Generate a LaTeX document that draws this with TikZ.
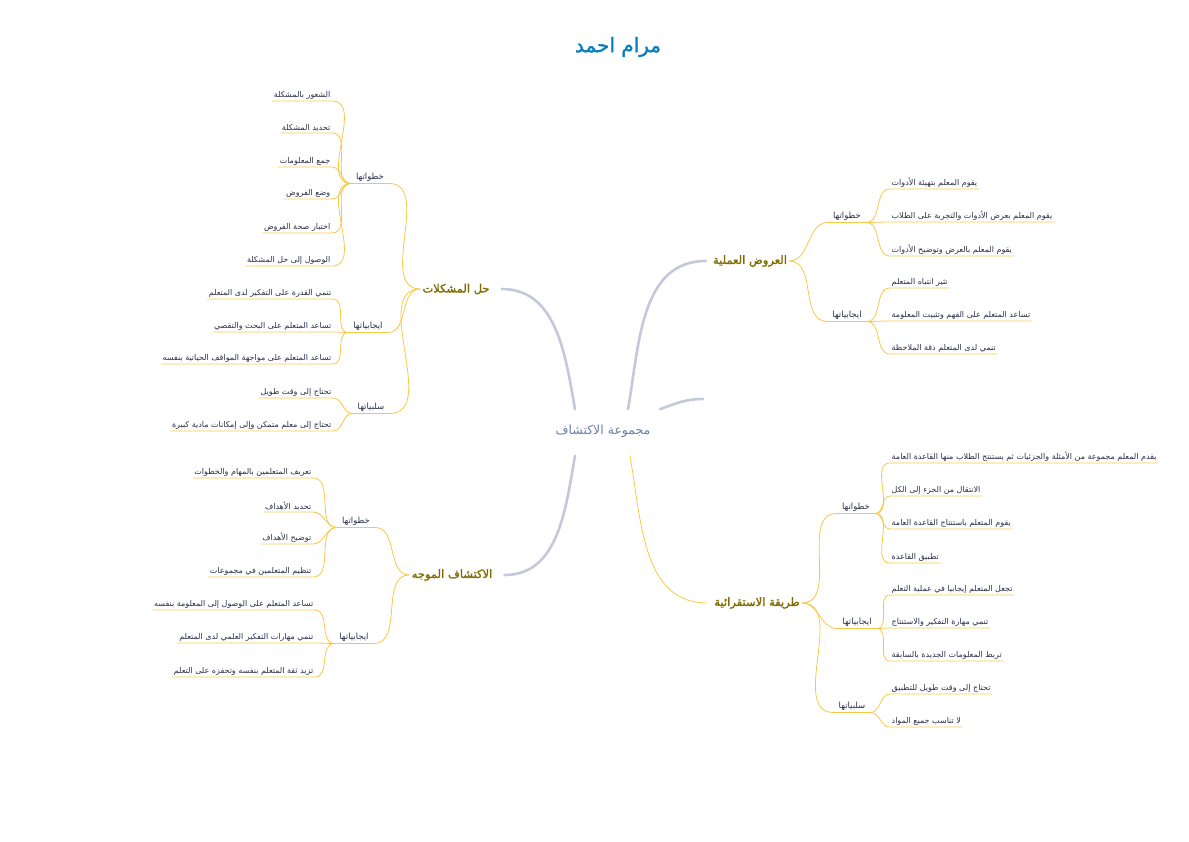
\documentclass[tikz,border=0pt]{standalone}
\usepackage{fontspec}
\usepackage{xcolor}
\usepackage{tikz}
\usetikzlibrary{positioning}
\TeXXeTstate=1
\newfontfamily\arabicfont[Script=Arabic]{DejaVu Sans}
\newfontfamily\arabicbold[Script=Arabic,FakeBold=1.6]{DejaVu Sans}

\definecolor{trunkcol}{HTML}{C3C9DA}
\definecolor{twigcol}{HTML}{F7C846}
\definecolor{topiccol}{HTML}{7F6B00}
\definecolor{leafcol}{HTML}{2A2F4A}
\definecolor{centercol}{HTML}{6A7FA6}
\definecolor{titlecol}{HTML}{0A7DBE}

\tikzset{
  leaf/.style={font=\arabicfont\fontsize{8}{9}\selectfont, text=leafcol, inner sep=1.5pt},
  group/.style={font=\arabicfont\fontsize{8.5}{10}\selectfont, text=leafcol, inner xsep=5pt, inner ysep=2pt},
  topic/.style={font=\arabicbold\fontsize{11.5}{13}\selectfont, text=topiccol, inner sep=2pt},
  twig/.style={draw=twigcol, line width=0.8pt},
  trunk/.style={draw=trunkcol, line width=2.6pt, line cap=round},
}

\begin{document}
\begin{tikzpicture}[x=1pt, y=-1pt]
    \useasboundingbox (0,0) rectangle (1189,841);

    % Title and centre
    \node[font=\arabicbold\fontsize{20}{22}\selectfont, text=titlecol] (title) at (618,47) {\beginR مرام احمد\endR};
    \node[font=\arabicfont\fontsize{12.5}{14}\selectfont, text=centercol] (ctr) at (603,431) {\beginR مجموعة الاكتشاف\endR};

    % Main topics
    \node[topic] (m1) at (456,289) {\beginR حل المشكلات\endR};
    \node[topic] (m2) at (452,575) {\beginR الاكتشاف الموجه\endR};
    \node[topic] (m3) at (750,261) {\beginR العروض العملية\endR};
    \node[topic] (m4) at (757,603) {\beginR طريقة الاستقرائية\endR};
    \coordinate (stub) at (703,399);

    % Trunks from the centre
    \draw[trunk] ([xshift=-28pt,yshift=12pt]ctr.north) to[out=100,in=0] ([xshift=10pt]m1.east);
    \draw[trunk] ([xshift=-28pt,yshift=-15pt]ctr.south) to[out=-100,in=0] ([xshift=10pt]m2.east);
    \draw[trunk] ([xshift=25pt,yshift=12pt]ctr.north) to[out=80,in=180] ([xshift=-5pt]m3.west);
    \draw[trunk] ([xshift=57pt,yshift=12pt]ctr.north) to[out=20,in=180] (stub);
    \draw[twig] ([xshift=27pt,yshift=-15pt]ctr.south) to[out=-80,in=180] ([xshift=-5pt]m4.west);

    % Groups
    \node[group] (g11) at (370,177) {\beginR خطواتها\endR};
    \node[group] (g12) at (368,326) {\beginR ايجابياتها\endR};
    \node[group] (g13) at (371,407) {\beginR سلبياتها\endR};
    \node[group] (g21) at (356,521) {\beginR خطواتها\endR};
    \node[group] (g22) at (354,637) {\beginR ايجابياتها\endR};
    \node[group] (g31) at (847,216) {\beginR خطواتها\endR};
    \node[group] (g32) at (847,315) {\beginR ايجابياتها\endR};
    \node[group] (g41) at (856,507) {\beginR خطواتها\endR};
    \node[group] (g42) at (857,622) {\beginR ايجابياتها\endR};
    \node[group] (g43) at (852,706) {\beginR سلبياتها\endR};

    \foreach \g in {g11,g12,g13}
        \draw[twig] (\g.south west) -- (\g.south east) to[out=0,in=180] (m1.west);
    \foreach \g in {g21,g22}
        \draw[twig] (\g.south west) -- (\g.south east) to[out=0,in=180] (m2.west);
    \foreach \g in {g31,g32}
        \draw[twig] (m3.east) to[out=0,in=180] (\g.south west) -- (\g.south east);
    \foreach \g in {g41,g42,g43}
        \draw[twig] (m4.east) to[out=0,in=180] (\g.south west) -- (\g.south east);

    % Leaves, left side
    \foreach \n/\y/\t in {1/101/{الشعور بالمشكلة}, 2/133/{تحديد المشكلة}, 3/167/{جمع المعلومات},
                         4/199/{وضع الفروض}, 5/233/{اختبار صحة الفروض}, 6/266/{الوصول إلى حل المشكلة}}{
        \node[leaf, anchor=south east] (a\n) at (332,\y) {\beginR\t\endR};
        \draw[twig] (a\n.south west) -- (a\n.south east) to[out=0,in=180] (g11.south west);
    }
    \foreach \n/\y/\t in {1/299/{تنمي القدرة على التفكير لدى المتعلم}, 2/332/{تساعد المتعلم على البحث والتقصي},
                         3/364/{تساعد المتعلم على مواجهة المواقف الحياتية بنفسه}}{
        \node[leaf, anchor=south east] (b\n) at (333,\y) {\beginR\t\endR};
        \draw[twig] (b\n.south west) -- (b\n.south east) to[out=0,in=180] (g12.south west);
    }
    \foreach \n/\y/\t in {1/398/{تحتاج إلى وقت طويل}, 2/431/{تحتاج إلى معلم متمكن وإلى إمكانات مادية كبيرة}}{
        \node[leaf, anchor=south east] (c\n) at (333,\y) {\beginR\t\endR};
        \draw[twig] (c\n.south west) -- (c\n.south east) to[out=0,in=180] (g13.south west);
    }
    \foreach \n/\y/\t in {1/478/{تعريف المتعلمين بالمهام والخطوات}, 2/512/{تحديد الأهداف}, 3/544/{توضيح الأهداف},
                         4/577/{تنظيم المتعلمين في مجموعات}}{
        \node[leaf, anchor=south east] (d\n) at (313,\y) {\beginR\t\endR};
        \draw[twig] (d\n.south west) -- (d\n.south east) to[out=0,in=180] (g21.south west);
    }
    \foreach \n/\y/\t in {1/610/{تساعد المتعلم على الوصول إلى المعلومة بنفسه}, 2/643/{تنمي مهارات التفكير العلمي لدى المتعلم},
                         3/677/{تزيد ثقة المتعلم بنفسه وتحفزه على التعلم}}{
        \node[leaf, anchor=south east] (e\n) at (315,\y) {\beginR\t\endR};
        \draw[twig] (e\n.south west) -- (e\n.south east) to[out=0,in=180] (g22.south west);
    }

    % Leaves, right side
    \foreach \n/\y/\t in {1/189/{يقوم المعلم بتهيئة الأدوات}, 2/222/{يقوم المعلم بعرض الأدوات والتجربة على الطلاب},
                         3/256/{يقوم المعلم بالعرض وتوضيح الأدوات}}{
        \node[leaf, anchor=south west] (f\n) at (890,\y) {\beginR\t\endR};
        \draw[twig] (g31.south east) to[out=0,in=180] (f\n.south west) -- (f\n.south east);
    }
    \foreach \n/\y/\t in {1/288/{تثير انتباه المتعلم}, 2/321/{تساعد المتعلم على الفهم وتثبيت المعلومة},
                         3/354/{تنمي لدى المتعلم دقة الملاحظة}}{
        \node[leaf, anchor=south west] (h\n) at (890,\y) {\beginR\t\endR};
        \draw[twig] (g32.south east) to[out=0,in=180] (h\n.south west) -- (h\n.south east);
    }
    \foreach \n/\y/\t in {1/463/{يقدم المعلم مجموعة من الأمثلة والجزئيات ثم يستنتج الطلاب منها القاعدة العامة},
                         2/496/{الانتقال من الجزء إلى الكل}, 3/529/{يقوم المتعلم باستنتاج القاعدة العامة},
                         4/563/{تطبيق القاعدة}}{
        \node[leaf, anchor=south west] (i\n) at (890,\y) {\beginR\t\endR};
        \draw[twig] (g41.south east) to[out=0,in=180] (i\n.south west) -- (i\n.south east);
    }
    \foreach \n/\y/\t in {1/595/{تجعل المتعلم إيجابيا في عملية التعلم}, 2/628/{تنمي مهارة التفكير والاستنتاج},
                         3/661/{تربط المعلومات الجديدة بالسابقة}}{
        \node[leaf, anchor=south west] (j\n) at (890,\y) {\beginR\t\endR};
        \draw[twig] (g42.south east) to[out=0,in=180] (j\n.south west) -- (j\n.south east);
    }
    \foreach \n/\y/\t in {1/694/{تحتاج إلى وقت طويل للتطبيق}, 2/727/{لا تناسب جميع المواد}}{
        \node[leaf, anchor=south west] (k\n) at (890,\y) {\beginR\t\endR};
        \draw[twig] (g43.south east) to[out=0,in=180] (k\n.south west) -- (k\n.south east);
    }
\end{tikzpicture}
\end{document}
